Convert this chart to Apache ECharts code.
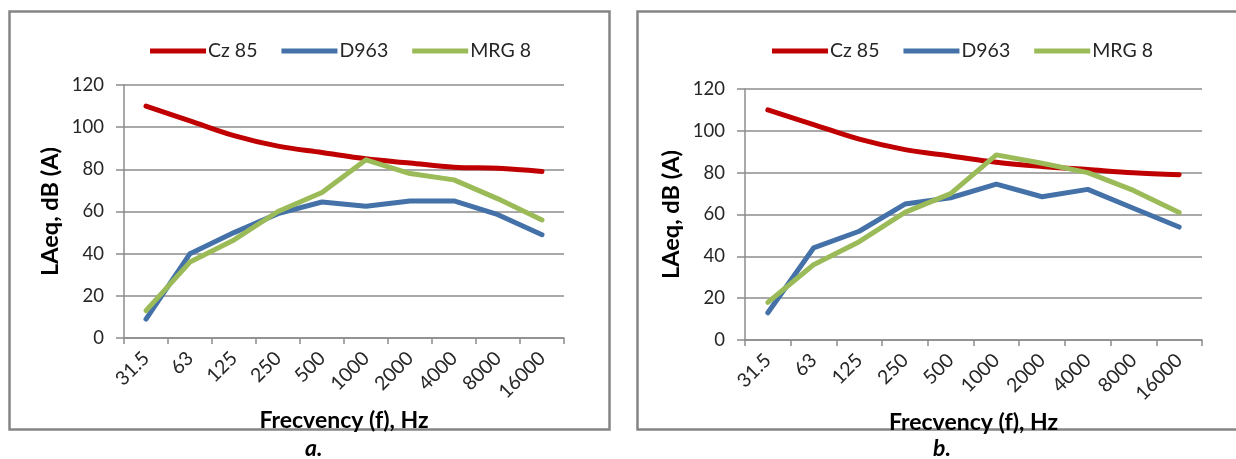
<!DOCTYPE html>
<html>
<head>
<meta charset="utf-8">
<script src="https://cdn.jsdelivr.net/npm/echarts@6/dist/echarts.min.js"></script>
<style>
html,body{margin:0;padding:0;background:#fff;}
#c{width:1236px;height:459px;}
</style>
</head>
<body>
<div id="c"></div>
<script>
// ---- data ----
const categories = ['31.5','63','125','250','500','1000','2000','4000','8000','16000'];
const seriesNames = ['Cz 85','D963','MRG 8'];
const czA  = [110, 103, 96, 91, 88, 85, 83, 81, 80.5, 79];
const d963A = [9, 40, 50, 59, 64.5, 62.5, 65, 65, 58.5, 49];
const mrgA = [13, 36, 46.5, 60, 69, 84.5, 78, 75, 66, 56];
const czB  = [110, 103, 96, 91, 88, 85, 83, 81.5, 80, 79];
const d963B = [13, 44, 52, 65, 68, 74.5, 68.5, 72, 63, 54];
const mrgB = [18, 36, 47, 61, 70, 88.5, 84.5, 80, 71.5, 61];
const yMin = 0, yMax = 120, yStep = 20;
const panelLabels = ['a.','b.'];
const xTitle = 'Frecvency (f), Hz';
const yTitle = 'LAeq, dB (A)';

// ---- styling ----
const FONT = 'Lato';
const colors = ['#c00000', '#4472a8', '#9bbb59'];
const gridColor = '#8c8c8c';

const grids = [
  {left:124, top:85, width:440, height:253},
  {left:745, top:89, width:457, height:251}
];

function xAxis(i){
  return {
    type:'category', gridIndex:i, data:categories, boundaryGap:true,
    axisLine:{lineStyle:{color:gridColor,width:1.5}},
    axisTick:{show:true,length:6,lineStyle:{color:gridColor,width:1.5}},
    axisLabel:{rotate:45,margin:17,fontFamily:FONT,fontSize:19.5,color:'#262626',interval:0},
    name:xTitle, nameLocation:'middle', nameGap:61,
    nameTextStyle:{fontFamily:FONT,fontSize:23,fontWeight:'bold',color:'#000'}
  };
}
function yAxis(i){
  return {
    type:'value', gridIndex:i, min:yMin, max:yMax, interval:yStep,
    axisLine:{show:true,lineStyle:{color:gridColor,width:1.5}},
    axisTick:{show:true,length:8,lineStyle:{color:gridColor,width:1.5}},
    splitLine:{show:true,lineStyle:{color:gridColor,width:1.5}},
    axisLabel:{margin:20,fontFamily:FONT,fontSize:18.5,color:'#262626'},
    name:yTitle, nameLocation:'middle', nameGap:62, nameRotate:90,
    nameTextStyle:{fontFamily:FONT,fontSize:23.5,fontWeight:'bold',color:'#000'}
  };
}
function line(name, data, idx, gi, smooth){
  return {
    type:'line', name:name, data:data, xAxisIndex:gi, yAxisIndex:gi,
    showSymbol:false, symbol:'none', smooth:smooth, animation:false,
    lineStyle:{color:colors[idx], width:5, cap:'round', join:'round'},
    itemStyle:{color:colors[idx]}
  };
}
function legend(i, left){
  return {
    show:true, left:left, top:36, itemWidth:56, itemHeight:5, itemGap:24, icon:'rect',
    textStyle:{fontFamily:FONT,fontSize:19.5,color:'#262626',padding:[0,0,0,-3]},
    data:seriesNames.map(n=>({name:n}))
  };
}

const chart = echarts.init(document.getElementById('c'), null, {renderer:'canvas'});
chart.setOption({
  backgroundColor:'#fff',
  animation:false,
  grid:grids,
  xAxis:[xAxis(0), xAxis(1)],
  yAxis:[yAxis(0), yAxis(1)],
  legend:[legend(0,145), legend(1,767)],
  title:[
    {text:panelLabels[0], left:300, top:432, textStyle:{fontFamily:FONT,fontSize:23,fontWeight:'bold',fontStyle:'italic',color:'#000'}},
    {text:panelLabels[1], left:928, top:432, textStyle:{fontFamily:FONT,fontSize:23,fontWeight:'bold',fontStyle:'italic',color:'#000'}}
  ],
  graphic:[
    {type:'rect', shape:{x:9.5,y:11.5,width:600,height:418}, style:{fill:null,stroke:'#858585',lineWidth:2.5}, silent:true},
    {type:'rect', shape:{x:637.5,y:11.5,width:620,height:418}, style:{fill:null,stroke:'#858585',lineWidth:2.5}, silent:true}
  ],
  series:[
    line(seriesNames[0], czA, 0, 0, 0.35),
    line(seriesNames[1], d963A, 1, 0, false),
    line(seriesNames[2], mrgA, 2, 0, false),
    line(seriesNames[0], czB, 0, 1, 0.35),
    line(seriesNames[1], d963B, 1, 1, false),
    line(seriesNames[2], mrgB, 2, 1, false)
  ]
});
</script>
</body>
</html>
